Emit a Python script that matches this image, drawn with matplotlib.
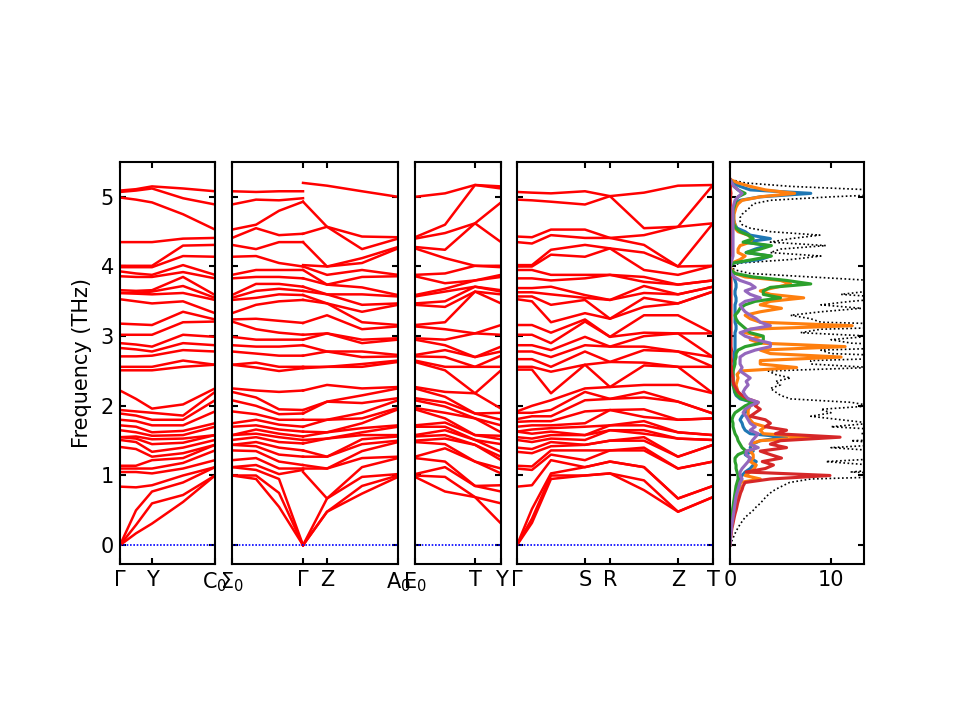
import numpy as np
import matplotlib
matplotlib.use("Agg")
import matplotlib.pyplot as plt

# ---------------- band structure data (THz), columns sorted ascending ----------------
col_G_a = [0, 0, 0, 0.84, 1.05, 1.10, 1.14, 1.41, 1.51, 1.55, 1.55, 1.65, 1.72, 1.80, 1.89, 1.94, 2.22,
           2.51, 2.56, 2.71, 2.83, 2.90, 3.02, 3.18, 3.53, 3.62, 3.62, 3.66, 3.86, 3.93, 3.99, 4.01, 4.35, 4.99, 5.07, 5.09]
col_GY = [0.17, 0.29, 0.50, 0.83, 1.05, 1.10, 1.14, 1.38, 1.48, 1.53, 1.56, 1.62, 1.70, 1.78, 1.86, 1.92, 2.10,
          2.51, 2.56, 2.71, 2.81, 2.88, 3.02, 3.17, 3.50, 3.61, 3.62, 3.65, 3.85, 3.90, 3.99, 4.01, 4.35, 4.96, 5.09, 5.11]
col_Y = [0.31, 0.60, 0.77, 0.86, 1.03, 1.10, 1.22, 1.27, 1.34, 1.45, 1.52, 1.57, 1.62, 1.72, 1.80, 1.90, 1.96,
         2.51, 2.56, 2.72, 2.78, 2.85, 3.02, 3.16, 3.47, 3.60, 3.64, 3.66, 3.85, 3.88, 3.99, 4.01, 4.35, 4.92, 5.12, 5.15]
col_YC = [0.62, 0.72, 0.90, 1.00, 1.10, 1.18, 1.25, 1.32, 1.40, 1.47, 1.53, 1.58, 1.64, 1.72, 1.80, 1.86, 2.02,
          2.56, 2.65, 2.80, 2.90, 3.02, 3.20, 3.35, 3.50, 3.62, 3.72, 3.85, 3.92, 4.02, 4.15, 4.30, 4.40, 4.75, 4.98, 5.12]
col_C0 = [1.00, 1.00, 1.12, 1.12, 1.22, 1.36, 1.44, 1.44, 1.51, 1.58, 1.58, 1.70, 1.75, 1.92, 2.08, 2.20, 2.25,
          2.59, 2.59, 2.78, 2.87, 2.99, 3.21, 3.24, 3.33, 3.52, 3.55, 3.59, 3.83, 3.88, 4.14, 4.31, 4.41, 4.53, 4.89, 5.08]
col_SG1 = [0.95, 1.00, 1.08, 1.15, 1.25, 1.35, 1.42, 1.48, 1.55, 1.60, 1.66, 1.72, 1.80, 1.88, 2.00, 2.12, 2.22,
           2.55, 2.62, 2.75, 2.85, 2.95, 3.10, 3.25, 3.45, 3.55, 3.65, 3.75, 3.85, 3.95, 4.15, 4.25, 4.55, 4.60, 4.96, 5.07]
col_SG2 = [0.55, 0.75, 0.95, 1.02, 1.10, 1.20, 1.30, 1.40, 1.48, 1.55, 1.60, 1.66, 1.73, 1.80, 1.88, 1.95, 2.20,
           2.50, 2.56, 2.72, 2.85, 2.95, 3.05, 3.22, 3.50, 3.60, 3.68, 3.75, 3.85, 3.95, 4.05, 4.35, 4.45, 4.80, 4.95, 5.08]
col_G_b = [0, 0, 0, 1.08, 1.10, 1.15, 1.27, 1.36, 1.46, 1.51, 1.56, 1.63, 1.70, 1.80, 1.89, 1.94, 2.22,
           2.54, 2.56, 2.72, 2.87, 2.95, 3.02, 3.19, 3.52, 3.59, 3.65, 3.71, 3.83, 3.95, 4.00, 4.35, 4.47, 4.93, 4.98, 5.08]
col_G_c = [0, 0, 0, 1.05, 1.10, 1.15, 1.27, 1.36, 1.46, 1.51, 1.56, 1.63, 1.70, 1.80, 1.89, 1.94, 2.22,
           2.54, 2.56, 2.72, 2.87, 2.95, 3.02, 3.19, 3.52, 3.59, 3.65, 3.71, 3.83, 3.95, 4.00, 4.02, 4.35, 4.47, 4.93, 5.20]
col_Z = [0.48, 0.48, 0.67, 0.67, 1.10, 1.10, 1.27, 1.27, 1.53, 1.53, 1.62, 1.62, 1.80, 1.80, 2.06, 2.06, 2.30,
         2.56, 2.56, 2.78, 2.78, 3.04, 3.04, 3.30, 3.47, 3.47, 3.60, 3.60, 3.74, 3.74, 3.88, 4.00, 4.00, 4.57, 4.57, 5.16]
col_ZA = [0.74, 0.85, 0.98, 1.12, 1.25, 1.35, 1.45, 1.52, 1.58, 1.62, 1.68, 1.75, 1.82, 1.90, 2.04, 2.15, 2.25,
          2.56, 2.60, 2.70, 2.78, 2.90, 2.95, 3.10, 3.20, 3.35, 3.45, 3.60, 3.70, 3.85, 3.95, 4.05, 4.12, 4.25, 4.43, 5.08]
col_A0 = [0.98, 1.00, 1.02, 1.25, 1.27, 1.48, 1.50, 1.56, 1.58, 1.70, 1.72, 1.95, 1.97, 2.08, 2.11, 2.25, 2.27,
          2.63, 2.65, 2.71, 2.73, 2.95, 2.97, 3.14, 3.16, 3.45, 3.47, 3.57, 3.59, 3.86, 3.88, 4.26, 4.28, 4.40, 4.42, 5.00]
col_ET = [0.77, 0.98, 1.12, 1.20, 1.39, 1.45, 1.53, 1.58, 1.65, 1.70, 1.76, 1.82, 1.90, 1.99, 2.05, 2.13, 2.20,
          2.51, 2.56, 2.70, 2.80, 2.87, 2.95, 3.10, 3.20, 3.42, 3.50, 3.64, 3.68, 3.76, 3.90, 4.12, 4.24, 4.48, 4.60, 5.05]
col_T = [0.69, 0.69, 0.85, 0.85, 1.20, 1.20, 1.44, 1.44, 1.51, 1.51, 1.58, 1.58, 1.82, 1.82, 1.89, 1.89, 2.18,
         2.18, 2.56, 2.56, 2.70, 2.70, 3.04, 3.04, 3.64, 3.64, 3.71, 3.71, 3.80, 3.80, 4.01, 4.01, 4.62, 4.62, 5.17, 5.17]
col_G_d = [0, 0, 0, 0.84, 1.10, 1.14, 1.34, 1.40, 1.51, 1.55, 1.63, 1.63, 1.70, 1.77, 1.81, 1.90, 1.92,
           2.52, 2.56, 2.67, 2.78, 2.87, 3.02, 3.16, 3.53, 3.57, 3.63, 3.69, 3.83, 3.95, 4.00, 4.02, 4.35, 4.43, 4.96, 5.07]
col_GS1 = [0.32, 0.38, 0.52, 0.86, 1.08, 1.13, 1.32, 1.38, 1.48, 1.53, 1.60, 1.66, 1.72, 1.78, 1.85, 1.90, 2.00,
           2.52, 2.56, 2.67, 2.78, 2.87, 3.02, 3.16, 3.50, 3.57, 3.63, 3.69, 3.83, 3.95, 4.00, 4.02, 4.33, 4.42, 4.95, 5.06]
col_GS2 = [0.95, 1.00, 1.03, 1.22, 1.30, 1.36, 1.42, 1.48, 1.53, 1.58, 1.63, 1.68, 1.72, 1.78, 1.85, 1.94, 2.08,
           2.18, 2.49, 2.56, 2.70, 2.80, 2.90, 3.05, 3.20, 3.45, 3.60, 3.71, 3.80, 3.88, 4.17, 4.24, 4.45, 4.53, 4.93, 5.05]
col_R = [1.03, 1.03, 1.20, 1.20, 1.36, 1.36, 1.50, 1.50, 1.65, 1.65, 1.72, 1.72, 1.94, 1.94, 2.10, 2.10, 2.27,
         2.27, 2.63, 2.63, 2.85, 2.85, 2.99, 2.99, 3.25, 3.25, 3.52, 3.52, 3.88, 3.88, 4.26, 4.26, 4.41, 4.41, 5.01, 5.01]
col_RZ = [0.79, 0.93, 1.12, 1.12, 1.36, 1.40, 1.50, 1.55, 1.60, 1.65, 1.72, 1.78, 1.84, 1.95, 2.12, 2.20, 2.30,
          2.58, 2.62, 2.80, 2.85, 3.00, 3.05, 3.30, 3.42, 3.55, 3.62, 3.72, 3.78, 3.85, 3.95, 4.20, 4.31, 4.45, 4.55, 5.06]

# panels: list of segments (q positions, columns); tick positions and labels
panel_lengths = [0.95, 1.66, 0.86, 1.96]
panel_segments = [
    [([0.00, 0.16, 0.32, 0.63, 0.95], [col_G_a, col_GY, col_Y, col_YC, col_C0])],
    [([0.00, 0.24, 0.47, 0.71], [col_C0, col_SG1, col_SG2, col_G_b]),
     ([0.71, 0.95, 1.30, 1.66], [col_G_c, col_Z, col_ZA, col_A0])],
    [([0.00, 0.30, 0.60, 0.86], [col_A0, col_ET, col_T, col_Y])],
    [([0.00, 0.15, 0.34, 0.68, 0.93, 1.27, 1.61, 1.96],
      [col_G_d, col_GS1, col_GS2, col_C0, col_R, col_RZ, col_Z, col_T])],
]
tick_q = [[0.00, 0.32, 0.95], [0.00, 0.71, 0.95, 1.66], [0.00, 0.60, 0.86], [0.00, 0.68, 0.93, 1.61, 1.96]]
tick_labels = [[r'$\Gamma$', 'Y', r'C$_0$'],
               [r'$\Sigma_0$', r'$\Gamma$', 'Z', r'A$_0$'],
               [r'E$_0$', 'T', 'Y'],
               [r'$\Gamma$', 'S', 'R', 'Z', 'T']]

# ---------------- DOS data ----------------
dos_freq = [0.00, 0.05, 0.10, 0.15, 0.20, 0.25, 0.30, 0.35, 0.40, 0.45,
            0.50, 0.55, 0.60, 0.65, 0.70, 0.75, 0.80, 0.85, 0.90, 0.95,
            1.00, 1.05, 1.10, 1.15, 1.20, 1.25, 1.30, 1.35, 1.40, 1.45,
            1.50, 1.55, 1.60, 1.65, 1.70, 1.75, 1.80, 1.85, 1.90, 1.95,
            2.00, 2.05, 2.10, 2.15, 2.20, 2.25, 2.30, 2.35, 2.40, 2.45,
            2.50, 2.55, 2.60, 2.65, 2.70, 2.75, 2.80, 2.85, 2.90, 2.95,
            3.00, 3.05, 3.10, 3.15, 3.20, 3.25, 3.30, 3.35, 3.40, 3.45,
            3.50, 3.55, 3.60, 3.65, 3.70, 3.75, 3.80, 3.85, 3.90, 3.95,
            4.00, 4.05, 4.10, 4.15, 4.20, 4.25, 4.30, 4.35, 4.40, 4.45,
            4.50, 4.55, 4.60, 4.65, 4.70, 4.75, 4.80, 4.85, 4.90, 4.95,
            5.00, 5.05, 5.10, 5.15, 5.20, 5.25]
dos_total = [0, 0.15, 0.3, 0.45, 0.6, 0.8, 1.0, 1.25, 1.5, 1.9,
             2.3, 2.6, 3.0, 3.3, 3.6, 4.0, 4.5, 5.2, 5.9, 8.0,
             20, 12, 16, 14, 9.5, 16, 13.5, 15, 10, 16,
             12, 25, 13, 16, 10, 14, 11, 8, 10, 9,
             14, 12, 6, 5, 4.5, 4.0, 5.0, 4.5, 6.0, 4.5,
             3.8, 14, 8, 8, 20, 10, 9, 20, 12, 10,
             14, 7, 9, 22, 9, 8, 6, 9, 13, 9,
             12, 16, 11, 14, 17, 20, 14, 8, 2, 0.5,
             0, 1, 6, 9, 4, 5, 9.5, 4, 6, 8.9,
             4, 2, 1.2, 1.0, 1.0, 1.2, 1.6, 2.0, 2.3, 4,
             10, 18, 14, 6, 1.5, 0]
dos_blue = [0, 0.01, 0.03, 0.05, 0.08, 0.1, 0.12, 0.15, 0.2, 0.25,
            0.3, 0.35, 0.4, 0.45, 0.5, 0.6, 0.7, 0.8, 0.9, 1.0,
            1.2, 1.5, 2.0, 2.3, 2.6, 2.0, 1.5, 2.3, 2.0, 2.2,
            3.0, 5.6, 2.0, 1.5, 1.3, 1.2, 1.0, 1.2, 1.5, 1.8,
            2.0, 2.3, 1.0, 0.6, 0.45, 0.4, 0.3, 0.3, 0.3, 0.3,
            0.3, 0.35, 0.4, 0.4, 0.4, 0.4, 0.5, 0.5, 0.5, 0.5,
            0.5, 0.5, 0.6, 0.6, 0.5, 0.5, 0.5, 0.5, 0.5, 0.5,
            0.6, 0.6, 0.5, 0.5, 0.6, 0.6, 0.5, 0.4, 0.1, 0.02,
            0, 0.3, 3.0, 4.0, 1.6, 2.5, 3.7, 1.5, 4.0, 2.0,
            1.5, 0.7, 0.5, 0.4, 0.3, 0.3, 0.3, 0.4, 0.5, 1.0,
            3.0, 8.0, 2.0, 1.0, 0.3, 0]
dos_orange = [0, 0.02, 0.05, 0.08, 0.12, 0.15, 0.2, 0.25, 0.3, 0.35,
              0.4, 0.45, 0.5, 0.6, 0.7, 0.8, 0.9, 1.0, 1.0, 3.0,
              1.5, 2.0, 2.4, 2.6, 2.0, 2.3, 2.3, 2.0, 2.6, 2.0,
              3.0, 8.3, 3.3, 3.0, 3.5, 2.3, 2.0, 1.8, 1.8, 1.8,
              2.0, 2.6, 1.5, 1.0, 0.8, 0.7, 0.6, 0.7, 0.8, 0.7,
              1.0, 6.6, 3.0, 3.0, 11.0, 4.0, 3.0, 11.4, 3.0, 2.0,
              3.1, 1.5, 2.0, 12.1, 3.0, 2.0, 1.5, 3.0, 5.1, 3.0,
              4.0, 7.3, 4.0, 3.0, 4.5, 6.0, 5.0, 1.5, 0.5, 0.2,
              0, 0.2, 1.0, 1.5, 0.8, 0.8, 1.0, 2.0, 2.2, 1.8,
              0.8, 0.5, 0.5, 0.4, 0.4, 0.4, 0.5, 0.6, 0.8, 1.2,
              3.0, 6.4, 3.5, 2.0, 0.8, 0]
dos_green = [0, 0.01, 0.03, 0.05, 0.07, 0.1, 0.12, 0.15, 0.18, 0.2,
             0.25, 0.3, 0.35, 0.4, 0.45, 0.5, 0.55, 0.6, 0.7, 0.8,
             0.8, 0.7, 0.6, 0.6, 0.5, 0.5, 0.8, 1.6, 1.2, 1.0,
             0.8, 0.7, 0.5, 0.4, 0.3, 0.3, 0.2, 0.3, 0.5, 1.0,
             1.5, 2.3, 1.2, 0.7, 0.5, 0.4, 0.3, 0.3, 0.3, 0.3,
             0.3, 0.4, 0.5, 0.5, 0.6, 0.6, 0.8, 1.5, 3.1, 3.3,
             3.3, 2.0, 1.6, 1.2, 0.8, 0.6, 0.5, 0.8, 1.0, 1.5,
             2.5, 5.0, 3.3, 3.3, 4.0, 8.0, 5.6, 2.3, 0.5, 0.1,
             0, 0.3, 2.3, 4.1, 1.6, 3.0, 4.1, 1.3, 2.3, 1.8,
             1.0, 0.6, 0.4, 0.3, 0.3, 0.3, 0.3, 0.4, 0.5, 0.6,
             0.8, 1.5, 0.8, 0.4, 0.2, 0]
dos_red = [0, 0.02, 0.05, 0.1, 0.15, 0.2, 0.28, 0.35, 0.42, 0.5,
           0.6, 0.68, 0.75, 0.85, 0.95, 1.05, 1.2, 1.3, 1.5, 4.0,
           9.9, 1.6, 3.5, 4.3, 3.2, 5.1, 4.0, 3.0, 5.6, 4.0,
           5.0, 10.9, 4.5, 5.6, 3.5, 4.0, 3.5, 2.0, 2.5, 3.0,
           2.5, 2.8, 1.8, 1.2, 0.8, 0.6, 0.4, 0.3, 0.3, 0.2,
           0.15, 0.15, 0.1, 0.15, 0.1, 0.1, 0.15, 0.1, 0.1, 0.1,
           0.1, 0.1, 0.1, 0.1, 0.1, 0.1, 0.1, 0.1, 0.1, 0.1,
           0.1, 0.1, 0.1, 0.1, 0.1, 0.1, 0.1, 0.1, 0.05, 0.02,
           0, 0.02, 0.05, 0.05, 0.05, 0.05, 0.05, 0.05, 0.05, 0.05,
           0.05, 0.05, 0.05, 0.05, 0.05, 0.05, 0.05, 0.05, 0.05, 0.05,
           0.05, 0.1, 0.05, 0.05, 0.02, 0]
dos_purple = [0, 0.02, 0.05, 0.08, 0.12, 0.15, 0.2, 0.25, 0.3, 0.35,
              0.4, 0.45, 0.5, 0.55, 0.6, 0.7, 0.8, 0.9, 1.0, 1.2,
              1.0, 1.0, 1.2, 1.5, 1.8, 2.0, 1.6, 1.6, 2.8, 2.0,
              2.2, 2.5, 2.8, 2.0, 2.5, 2.0, 1.8, 1.6, 1.3, 1.5,
              2.0, 2.8, 1.8, 1.5, 1.3, 1.5, 1.8, 1.6, 2.0, 1.5,
              1.0, 1.2, 1.0, 1.0, 1.0, 1.5, 2.5, 4.0, 4.0, 2.5,
              1.5, 1.0, 2.0, 4.0, 3.0, 2.6, 2.0, 1.5, 1.2, 1.0,
              1.5, 3.0, 2.0, 1.5, 2.5, 2.0, 1.0, 0.4, 0.1, 0.02,
              0, 0.1, 0.2, 0.3, 0.3, 0.3, 0.3, 0.3, 0.3, 0.3,
              0.3, 0.3, 0.3, 0.3, 0.3, 0.3, 0.3, 0.3, 0.4, 0.5,
              0.8, 1.2, 0.8, 0.4, 0.2, 0]
dos_partials = [dos_blue, dos_orange, dos_green, dos_red, dos_purple]
dos_colors = ['#1f77b4', '#ff7f0e', '#2ca02c', '#d62728', '#9467bd']
dos_xticks = [0, 10]

# ---------------- plotting ----------------
plt.rcParams['font.family'] = ['DejaVu Sans']
fig = plt.figure(figsize=(6.4, 4.8), dpi=150)
ylim = (-0.27, 5.5)
bottom, height = 0.2167, 0.5583
lefts = [0.125, 0.2417, 0.4323, 0.5385]
widths = [0.0990, 0.1729, 0.0896, 0.2042]

for k in range(4):
    ax = fig.add_axes([lefts[k], bottom, widths[k], height])
    for qs, cols in panel_segments[k]:
        arr = np.array(cols).T
        for band in arr:
            ax.plot(qs, band, color='r', lw=1.2)
    ax.axhline(0, color='b', lw=0.8, ls=(0, (1, 1)))
    ax.set_xlim(0, panel_lengths[k])
    ax.set_ylim(*ylim)
    ax.set_xticks(tick_q[k])
    ax.set_xticklabels(tick_labels[k])
    ax.set_yticks([0, 1, 2, 3, 4, 5])
    ax.tick_params(direction='in', top=True, right=True, length=3, width=1,
                   labelsize=10, labelleft=(k == 0), pad=3)
    for s in ax.spines.values():
        s.set_linewidth(1.0)
    if k == 0:
        ax.set_ylabel('Frequency (THz)', fontsize=10)

axd = fig.add_axes([0.7604, bottom, 0.1396, height])
axd.plot(dos_total, dos_freq, color='k', lw=0.8, ls=(0, (1, 1.5)))
for vals, c in zip(dos_partials, dos_colors):
    axd.plot(vals, dos_freq, color=c, lw=1.5)
axd.set_xlim(0, 13.27)
axd.set_ylim(*ylim)
axd.set_xticks(dos_xticks)
axd.set_yticks([0, 1, 2, 3, 4, 5])
axd.tick_params(direction='in', top=True, right=True, length=3, width=1,
                labelsize=10, labelleft=False, pad=3)
for s in axd.spines.values():
    s.set_linewidth(1.0)

fig.savefig('out.png', dpi=150)
